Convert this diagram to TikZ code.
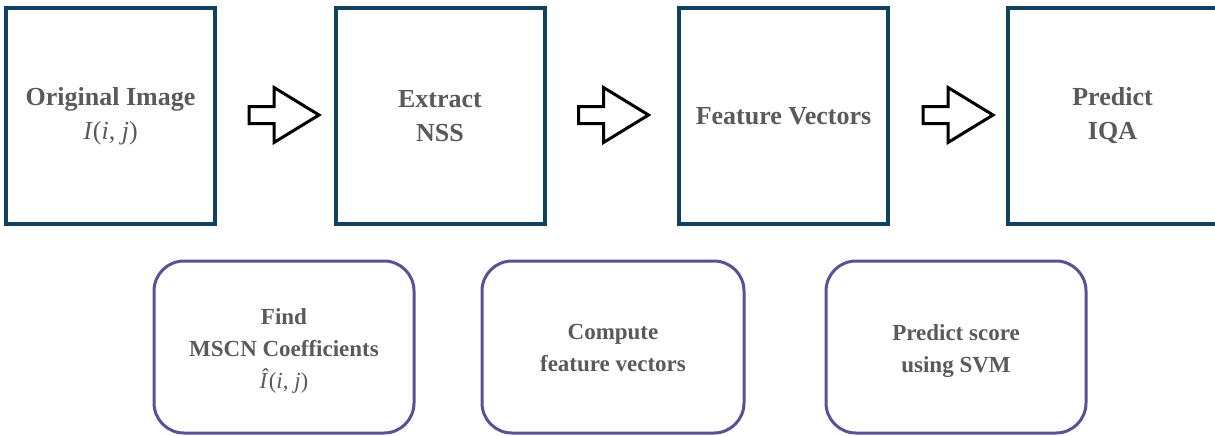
\documentclass[tikz,border=0pt]{standalone}
\usepackage{fontspec}
\setmainfont{Liberation Serif}
\usetikzlibrary{calc}
\definecolor{sqc}{HTML}{0D4361}
\definecolor{rdc}{HTML}{5B4F96}
\definecolor{txc}{HTML}{5A5A5A}
\newcommand\lowertext[2]{\raisebox{-#1}[\height][\depth]{\begin{tabular}{@{}c@{}}#2\end{tabular}}}
\begin{document}
\begin{tikzpicture}[x=1pt,y=-1pt,
  sq/.style={draw=sqc, line width=4pt, minimum width=209pt, minimum height=216pt,
    inner sep=0pt, text=txc, font=\fontsize{26}{34}\selectfont\bfseries, align=center},
  rd/.style={draw=rdc, line width=3pt, rounded corners=30pt, minimum width=260pt,
    minimum height=172pt, inner sep=0pt, text=txc,
    font=\fontsize{23}{32}\selectfont\bfseries, align=center},
  blk/.style={draw=black, line width=3pt, fill=white, line join=miter},
  blockarrow/.pic={\draw[blk] (0,-8.5) -- (25,-8.5) -- (25,-27.5) -- (70,0)
    -- (25,27.5) -- (25,8.5) -- (0,8.5) -- cycle;}]
\useasboundingbox (0,0) rectangle (1215,436);
\node[sq] (b1) at (110.5,116) {Original Image\\{\mdseries\textit{I}(\textit{i}, \textit{j})}};
\node[sq] (b2) at (440,116) {Extract\\NSS};
\node[sq] (b3) at (783.5,116) {Feature Vectors};
\node[sq] (b4) at (1112.5,116) {Predict\\IQA};
\node[rd] (r1) at (284,347) {\lowertext{3pt}{Find\\MSCN Coefficients\\{\mdseries\textit{Î}(\textit{i}, \textit{j})}}};
\node[rd, minimum width=262pt] (r2) at (613,347) {\lowertext{2pt}{Compute\\feature vectors}};
\node[rd] (r3) at (956,347) {\lowertext{3pt}{Predict score\\using SVM}};
\pic at ($(b1.east)+(32,-1)$) {blockarrow};
\pic at ($(b2.east)+(32,-1)$) {blockarrow};
\pic at ($(b3.east)+(33,-1)$) {blockarrow};
\end{tikzpicture}
\end{document}
